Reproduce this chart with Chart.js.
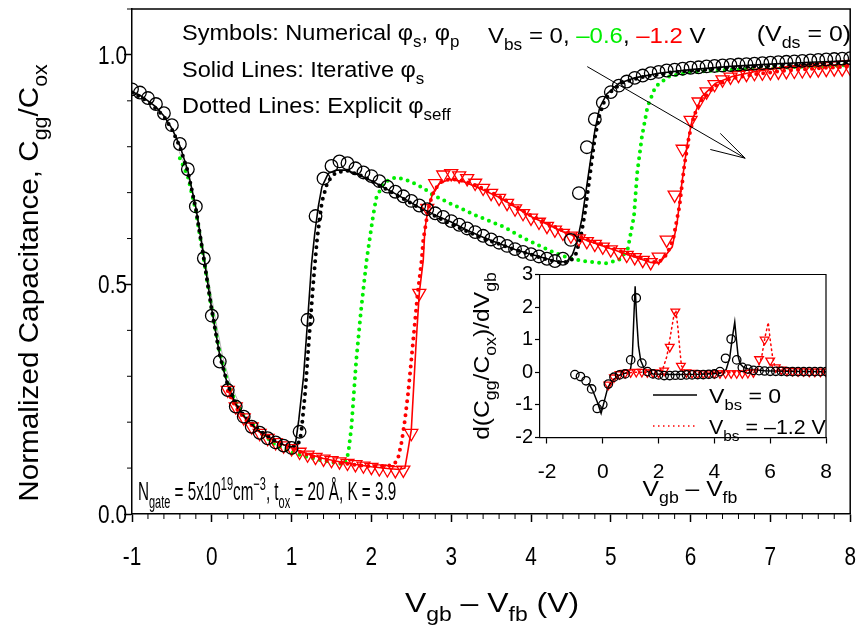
<!DOCTYPE html>
<html>
<head>
<meta charset="utf-8">
<script src="https://cdn.jsdelivr.net/npm/chart.js@4.4.0/dist/chart.umd.min.js"></script>
<style>
  body { margin: 0; background: #fff; }
  #wrap { position: relative; width: 859px; height: 630px; }
  #main { position: absolute; left: 0; top: 0; }
  #inset { position: absolute; left: 430px; top: 250px; }
</style>
</head>
<body>
<div id="wrap">
  <canvas id="main" width="859" height="630"></canvas>
  <canvas id="inset" width="429" height="270"></canvas>
</div>
<script>
// ========== MAIN PLOT DATA ==========
const xTicks = [-1, 0, 1, 2, 3, 4, 5, 6, 7, 8];
const yTicks = [0, 0.5, 1.0];

// numerical, Vbs = 0 (circles)
const circX = [-1.0,-0.9,-0.8,-0.7,-0.6,-0.5,-0.4,-0.3,-0.2,-0.1,0.0,0.1,0.2,0.3,0.4,0.5,0.6,0.7,0.8,0.9,
  1.0,1.1,1.2,1.3,1.4,1.5,1.6,1.7,1.8,1.9,2.0,2.1,2.2,2.3,2.4,2.5,2.6,2.7,2.8,2.9,
  3.0,3.1,3.2,3.3,3.4,3.5,3.6,3.7,3.8,3.9,4.0,4.1,4.2,4.3,4.4,4.5,4.6,4.7,4.8,4.9,
  5.0,5.1,5.2,5.3,5.4,5.5,5.6,5.7,5.8,5.9,6.0,6.1,6.2,6.3,6.4,6.5,6.6,6.7,6.8,6.9,
  7.0,7.1,7.2,7.3,7.4,7.5,7.6,7.7,7.8,7.9,8.0];
const circY = [0.925,0.918,0.906,0.893,0.873,0.847,0.806,0.751,0.670,0.557,0.432,0.332,0.270,0.234,0.212,0.190,0.177,0.165,0.156,0.149,
  0.144,0.179,0.423,0.649,0.731,0.758,0.768,0.764,0.753,0.744,0.736,0.725,0.713,0.702,0.692,0.682,0.672,0.664,0.655,0.647,
  0.638,0.630,0.622,0.614,0.606,0.598,0.591,0.584,0.577,0.571,0.566,0.561,0.556,0.551,0.556,0.597,0.699,0.799,0.860,0.896,
  0.919,0.933,0.942,0.950,0.955,0.960,0.963,0.966,0.968,0.970,0.972,0.973,0.975,0.976,0.977,0.978,0.979,0.980,0.981,0.982,
  0.983,0.984,0.985,0.986,0.987,0.988,0.989,0.990,0.991,0.992,0.993];

// numerical, Vbs = -1.2 (triangles)
const triX = [0.2,0.3,0.4,0.5,0.6,0.7,0.8,0.9,1.0,1.1,1.2,1.3,1.4,1.5,1.6,1.7,1.8,1.9,2.0,
  2.1,2.2,2.3,2.4,2.5,2.6,2.7,2.8,2.9,3.0,3.1,3.2,3.3,3.4,3.5,3.6,3.7,3.8,3.9,4.0,
  4.1,4.2,4.3,4.4,4.5,4.6,4.7,4.8,4.9,5.0,5.1,5.2,5.3,5.4,5.5,5.6,5.7,5.8,5.9,6.0,
  6.1,6.2,6.3,6.4,6.5,6.6,6.7,6.8,6.9,7.0,7.1,7.2,7.3,7.4,7.5,7.6,7.7,7.8,7.9,8.0];
const triY = [0.270,0.234,0.210,0.190,0.176,0.165,0.156,0.149,0.143,0.135,0.129,0.124,0.120,0.117,0.114,0.111,0.108,0.105,0.102,
  0.099,0.097,0.095,0.096,0.176,0.481,0.666,0.720,0.739,0.742,0.737,0.731,0.721,0.710,0.699,0.688,0.677,0.665,0.655,0.645,
  0.636,0.627,0.619,0.612,0.606,0.600,0.594,0.588,0.582,0.576,0.570,0.564,0.559,0.553,0.548,0.560,0.597,0.695,0.795,0.858,
  0.898,0.920,0.936,0.946,0.952,0.956,0.958,0.960,0.961,0.962,0.963,0.964,0.965,0.966,0.967,0.968,0.969,0.970,0.970,0.971];

// iterative, Vbs = 0 (solid black)
const blackX = [-1.0,-0.9,-0.8,-0.7,-0.6,-0.5,-0.4,-0.3,-0.2,-0.1,0.0,0.1,0.2,0.3,0.4,0.5,0.6,0.7,0.8,0.9,
  1.0,1.05,1.09,1.15,1.21,1.25,1.29,1.335,1.38,1.46,1.56,1.67,1.8,2.0,2.2,2.4,2.6,2.8,3.0,3.2,3.4,3.6,3.8,4.0,4.2,
  4.35,4.45,4.52,4.58,4.64,4.72,4.8,4.86,4.95,5.1,5.3,5.6,6.0,6.5,7.0,7.5,8.0];
const blackY = [0.920,0.912,0.900,0.887,0.867,0.840,0.802,0.748,0.668,0.560,0.445,0.345,0.280,0.240,0.214,0.195,0.180,0.168,0.158,0.151,
  0.146,0.155,0.205,0.300,0.444,0.545,0.611,0.670,0.713,0.742,0.749,0.749,0.742,0.726,0.707,0.688,0.668,0.651,0.636,0.618,0.603,0.589,0.576,0.566,0.556,
  0.549,0.550,0.565,0.595,0.645,0.740,0.835,0.885,0.915,0.938,0.950,0.960,0.968,0.975,0.980,0.984,0.987];

// explicit, Vbs = 0 (dotted black)
const blackDotX = [-1.0,-0.8,-0.6,-0.5,-0.4,-0.3,-0.2,-0.1,0.0,0.1,0.2,0.3,0.4,0.6,0.8,1.0,1.08,1.12,1.17,1.22,1.27,1.32,1.38,1.45,1.55,1.7,1.9,
  2.2,2.6,3.0,3.4,3.8,4.2,4.4,4.5,4.56,4.62,4.68,4.74,4.8,4.86,4.92,5.0,5.15,5.4,5.8,6.5,7.2,8.0];
const blackDotY = [0.918,0.899,0.866,0.838,0.800,0.746,0.665,0.556,0.443,0.345,0.281,0.241,0.215,0.181,0.159,0.146,0.150,0.175,0.265,0.385,0.500,0.600,0.680,0.723,0.743,0.748,0.735,
  0.706,0.667,0.631,0.600,0.576,0.554,0.547,0.552,0.565,0.600,0.660,0.740,0.820,0.870,0.900,0.920,0.940,0.952,0.963,0.972,0.978,0.982];

// iterative, Vbs = -0.6 (thin line)
const greenX = [-0.41,-0.33,-0.24,-0.15,-0.06,0.04,0.14,0.24,0.32];
const greenY = [0.790,0.755,0.700,0.625,0.530,0.430,0.340,0.280,0.250];

// explicit, Vbs = -0.6 (dotted green)
const greenDotX = [-0.4,-0.3,-0.2,-0.1,0.0,0.1,0.2,0.3,0.4,0.6,0.8,1.0,1.2,1.4,1.6,1.66,1.71,1.75,1.81,1.87,1.94,
  2.02,2.06,2.15,2.23,2.31,2.42,2.52,2.65,2.77,2.98,3.3,3.65,3.95,4.27,4.48,4.69,4.94,5.1,5.21,
  5.29,5.33,5.39,5.46,5.56,5.73,5.98,6.4,7.0,7.5,8.0];
const greenDotY = [0.775,0.735,0.660,0.555,0.445,0.350,0.285,0.243,0.215,0.180,0.150,0.134,0.124,0.116,0.110,0.108,0.132,0.190,0.335,0.444,0.553,
  0.648,0.688,0.720,0.729,0.733,0.729,0.722,0.710,0.695,0.677,0.651,0.626,0.597,0.571,0.557,0.550,0.546,0.553,0.575,
  0.648,0.742,0.822,0.887,0.931,0.953,0.962,0.967,0.971,0.975,0.978];

// iterative, Vbs = -1.2 (solid red)
const redX = [0.2,0.3,0.4,0.5,0.6,0.8,1.0,1.2,1.4,1.6,1.8,2.0,2.2,2.35,2.42,2.46,2.5,2.56,2.6,2.65,2.67,2.71,2.77,2.85,2.98,
  3.15,3.31,3.6,4.0,4.4,4.8,5.0,5.3,5.5,5.6,5.64,5.77,5.83,5.89,5.96,6.02,6.06,6.14,6.31,6.52,6.81,7.23,7.6,8.0];
const redY = [0.270,0.236,0.212,0.193,0.178,0.158,0.144,0.131,0.121,0.114,0.108,0.103,0.099,0.097,0.100,0.140,0.183,0.372,0.481,0.553,0.619,0.666,0.699,0.720,0.729,
  0.724,0.713,0.690,0.648,0.615,0.590,0.578,0.560,0.548,0.547,0.553,0.582,0.633,0.720,0.808,0.858,0.875,0.909,0.938,0.953,0.964,0.975,0.982,0.988];

// explicit, Vbs = -1.2 (dotted red)
const redDotX = [0.2,0.3,0.4,0.6,0.8,1.0,1.2,1.4,1.6,1.8,2.0,2.2,2.28,2.33,2.38,2.42,2.46,2.5,2.54,2.58,2.63,2.65,2.69,2.73,2.79,2.88,
  3.0,3.15,3.31,3.6,4.0,4.4,4.8,5.0,5.3,5.5,5.6,5.7,5.78,5.86,5.92,5.98,6.04,6.12,6.3,6.5,6.8,7.2,7.6,8.0];
const redDotY = [0.268,0.232,0.210,0.177,0.157,0.142,0.129,0.119,0.112,0.107,0.104,0.105,0.108,0.118,0.158,0.205,0.263,0.335,0.408,0.481,0.553,0.597,0.640,0.677,0.706,0.724,
  0.730,0.726,0.716,0.692,0.650,0.617,0.592,0.580,0.562,0.550,0.548,0.565,0.597,0.670,0.757,0.822,0.866,0.898,0.932,0.948,0.958,0.966,0.971,0.975];

// ========== INSET DATA ==========
const insetXTicks = [-2, 0, 2, 4, 6, 8];
const insetYTicks = [-2, -1, 0, 1, 2, 3];

const insCircX = [-1.0,-0.8,-0.6,-0.4,-0.2,0.0,0.2,0.4,0.6,0.8,1.0,1.2,1.4,1.6,1.8,2.0,2.2,2.4,2.6,2.8,3.0,3.2,3.4,
  3.6,3.8,4.0,4.2,4.4,4.6,4.8,5.0,5.2,5.4,5.6,5.8,6.0,6.2,6.4,6.6,6.8,7.0,7.2,7.4,7.6,7.8,8.0];
const insCircY = [-0.07,-0.13,-0.26,-0.51,-1.11,-0.99,-0.36,-0.15,-0.08,-0.05,0.38,2.28,0.28,0.02,-0.05,-0.08,-0.10,-0.10,-0.09,-0.09,-0.08,-0.08,-0.07,
  -0.07,-0.06,-0.05,0.02,0.43,1.02,0.38,0.15,0.10,0.06,0.05,0.04,0.03,0.03,0.03,0.02,0.02,0.02,0.02,0.02,0.02,0.02,0.02];

const insTriX = [0.2,0.4,0.6,0.8,1.0,1.2,1.4,1.6,1.8,2.0,2.2,2.4,2.6,2.8,3.0,3.2,3.4,3.6,3.8,4.0,
  4.2,4.4,4.6,4.8,5.0,5.2,5.4,5.6,5.8,6.0,6.2,6.4,6.6,6.8,7.0,7.2,7.4,7.6,7.8,8.0];
const insTriY = [-0.38,-0.16,-0.06,-0.02,0.00,0.01,0.01,0.00,-0.01,-0.01,0.05,0.78,1.86,0.20,0.00,-0.02,-0.03,-0.03,-0.03,-0.03,
  -0.03,-0.03,-0.03,-0.03,-0.03,-0.02,0.00,0.40,1.00,0.36,0.15,0.08,0.05,0.04,0.03,0.03,0.02,0.02,0.02,0.02];

const insBlackX = [-0.5,-0.36,-0.2,-0.06,0.05,0.18,0.35,0.55,0.75,0.92,1.0,1.06,1.11,1.16,1.21,1.28,1.36,1.48,1.6,1.8,
  2.5,3.5,4.2,4.42,4.55,4.65,4.73,4.79,4.85,4.92,5.05,5.21,5.8,6.5,8.0];
const insBlackY = [-0.35,-0.56,-0.90,-1.26,-0.90,-0.47,-0.25,-0.11,-0.04,-0.01,0.12,0.50,1.60,2.64,1.70,0.80,0.36,0.12,0.03,-0.05,
  -0.07,-0.06,-0.03,0.08,0.45,1.10,1.54,1.00,0.50,0.26,0.15,0.10,0.05,0.03,0.02];

const insRedX = [0.15,0.25,0.4,0.6,0.8,1.2,2.0,2.15,2.3,2.42,2.55,2.62,2.7,2.76,2.82,2.95,3.5,
  5.4,5.55,5.7,5.82,5.93,6.0,6.08,6.16,6.35,7.0,8.0];
const insRedY = [-0.50,-0.35,-0.18,-0.07,-0.02,0.00,0.00,0.10,0.50,1.10,1.75,1.90,1.30,0.70,0.20,0.03,-0.02,
  -0.01,0.10,0.50,1.10,1.53,1.00,0.50,0.20,0.07,0.03,0.02];

// ========== HELPERS ==========
const FONT = '"Liberation Sans", Arial, Helvetica, sans-serif';
const GREEN = "#00ee00";
const RED = "#ff0000";

function pts(xs, ys) {
  return xs.map((x, i) => ({ x: x, y: ys[i] }));
}

function partFont(p, size) {
  const s = p[1] ? size * 0.72 : size;
  return s + "px " + FONT;
}

// parts: [text, "sub" | "sup" | "", color]
function drawRich(ctx, parts, x, y, size, align, sx) {
  ctx.save();
  ctx.translate(x, y);
  ctx.scale(sx || 1, 1);
  ctx.textAlign = "left";
  ctx.textBaseline = "alphabetic";
  let w = 0;
  parts.forEach(p => { ctx.font = partFont(p, size); w += ctx.measureText(p[0]).width; });
  let cx = align === "center" ? -w / 2 : align === "right" ? -w : 0;
  parts.forEach(p => {
    ctx.font = partFont(p, size);
    ctx.fillStyle = p[2] || "#000";
    const dy = p[1] === "sub" ? size * 0.32 : p[1] === "sup" ? -size * 0.42 : 0;
    ctx.fillText(p[0], cx, dy);
    cx += ctx.measureText(p[0]).width;
  });
  ctx.restore();
}

function lineSet(xs, ys, color, width, dash) {
  return {
    data: pts(xs, ys), showLine: true, pointRadius: 0, borderColor: color,
    borderWidth: width, borderDash: dash || [], borderCapStyle: "round", tension: 0, fill: false
  };
}

function symbolSet(xs, ys, style, color, r, rot) {
  return {
    data: pts(xs, ys), showLine: false, pointStyle: style, pointRadius: r, pointRotation: rot || 0,
    borderColor: color, backgroundColor: "rgba(0,0,0,0)", pointBorderWidth: 1.3
  };
}

// ========== MAIN CHART ==========
const mainDecor = {
  id: "mainDecor",
  afterDraw(chart) {
    const { ctx, chartArea: a, scales: { x, y } } = chart;
    ctx.save();
    ctx.strokeStyle = "#000";
    ctx.lineWidth = 1.5;
    ctx.beginPath();
    ctx.moveTo(a.left, a.top);
    ctx.lineTo(a.right, a.top);
    ctx.lineTo(a.right, a.bottom);
    ctx.stroke();

    // minor ticks
    ctx.lineWidth = 1;
    ctx.beginPath();
    for (let i = -5; i <= 40; i++) {
      if (i % 5 === 0) continue;
      const px = x.getPixelForValue(i / 5);
      ctx.moveTo(px, a.bottom);
      ctx.lineTo(px, a.bottom + 5);
    }
    for (let i = 1; i <= 11; i++) {
      if (i % 5 === 0) continue;
      const py = y.getPixelForValue(i / 10);
      ctx.moveTo(a.left, py);
      ctx.lineTo(a.left - 5, py);
    }
    ctx.stroke();

    // tick labels (condensed)
    xTicks.forEach(v => drawRich(ctx, [[String(v)]], x.getPixelForValue(v), 565, 26, "center", 0.8));
    yTicks.forEach(v => drawRich(ctx, [[v.toFixed(1)]], 127, y.getPixelForValue(v) + 9, 26, "right", 0.8));

    // arrow
    const p = (vx, vy) => [x.getPixelForValue(vx), y.getPixelForValue(vy)];
    const s = p(4.705, 0.9745), e = p(6.684, 0.775), h1 = p(6.372, 0.829), h2 = p(6.247, 0.794);
    ctx.lineWidth = 1;
    ctx.beginPath();
    ctx.moveTo(s[0], s[1]); ctx.lineTo(e[0], e[1]);
    ctx.moveTo(h1[0], h1[1]); ctx.lineTo(e[0], e[1]); ctx.lineTo(h2[0], h2[1]);
    ctx.stroke();

    // texts
    drawRich(ctx, [["Symbols: Numerical φ"], ["s", "sub"], [", φ"], ["p", "sub"]], 182, 40, 22, "left", 1.07);
    drawRich(ctx, [["Solid Lines: Iterative φ"], ["s", "sub"]], 182, 77, 22, "left", 1.07);
    drawRich(ctx, [["Dotted Lines: Explicit φ"], ["seff", "sub"]], 182, 113, 22, "left", 1.07);
    drawRich(ctx, [["V"], ["bs", "sub"], [" = 0, "], ["–0.6", "", GREEN], [", "], ["–1.2", "", RED], [" V"]], 488, 43, 22, "left", 1.09);
    drawRich(ctx, [["(V"], ["ds", "sub"], [" = 0)"]], 851, 41, 22, "right", 1.13);
    drawRich(ctx, [["N"], ["gate", "sub"], [" = 5x10"], ["19", "sup"], ["cm"], ["−3", "sup"], [", t"], ["ox", "sub"], [" = 20 Å, K = 3.9"]],
      138, 500, 25, "left", 0.61);
    drawRich(ctx, [["V"], ["gb", "sub"], [" – V"], ["fb", "sub"], [" (V)"]], 492, 612, 28, "center", 1.14);

    ctx.translate(38, 283);
    ctx.rotate(-Math.PI / 2);
    drawRich(ctx, [["Normalized Capacitance, C"], ["gg", "sub"], ["/C"], ["ox", "sub"]], 0, 0, 27, "center", 1.1);
    ctx.restore();
  }
};

new Chart(document.getElementById("main"), {
  type: "scatter",
  data: {
    datasets: [
      symbolSet(circX, circY, "circle", "#000", 6.3),
      symbolSet(triX, triY, "triangle", RED, 7.5, 180),
      lineSet(blackX, blackY, "#000", 1.6),
      lineSet(blackDotX, blackDotY, "#000", 4, [0, 7]),
      lineSet(redX, redY, RED, 1.6),
      lineSet(redDotX, redDotY, RED, 4, [0, 7]),
      lineSet(greenDotX, greenDotY, GREEN, 4, [0, 7]),
      lineSet(greenX, greenY, "#b4b4b4", 1)
    ]
  },
  options: {
    responsive: false,
    animation: false,
    devicePixelRatio: 1,
    layout: { padding: { left: 0, right: 7, top: 9, bottom: 0 } },
    plugins: { legend: { display: false }, tooltip: { enabled: false } },
    scales: {
      x: {
        type: "linear", min: -1, max: 8,
        afterBuildTicks: s => { s.ticks = xTicks.map(v => ({ value: v })); },
        afterFit: s => { s.height = 116; },
        ticks: { display: false },
        grid: { drawOnChartArea: false, drawTicks: true, tickLength: 8, tickWidth: 1.5, tickColor: "#000" },
        border: { display: true, color: "#000", width: 1.5 }
      },
      y: {
        type: "linear", min: 0, max: 1.1,
        afterBuildTicks: s => { s.ticks = yTicks.map(v => ({ value: v })); },
        afterFit: s => { s.width = 132; },
        ticks: { display: false },
        grid: { drawOnChartArea: false, drawTicks: true, tickLength: 8, tickWidth: 1.5, tickColor: "#000" },
        border: { display: true, color: "#000", width: 1.5 }
      }
    }
  },
  plugins: [mainDecor]
});

// ========== INSET CHART ==========
const insetDecor = {
  id: "insetDecor",
  afterDraw(chart) {
    const { ctx, chartArea: a } = chart;
    ctx.save();
    ctx.strokeStyle = "#000";
    ctx.lineWidth = 1.2;
    ctx.beginPath();
    ctx.moveTo(a.left, a.top);
    ctx.lineTo(a.right, a.top);
    ctx.lineTo(a.right, a.bottom);
    ctx.stroke();

    // legend
    ctx.lineWidth = 1.5;
    ctx.beginPath();
    ctx.moveTo(223, 145); ctx.lineTo(267, 145);
    ctx.stroke();
    ctx.strokeStyle = RED;
    ctx.setLineDash([1.5, 3.5]);
    ctx.beginPath();
    ctx.moveTo(223, 176); ctx.lineTo(267, 176);
    ctx.stroke();
    ctx.setLineDash([]);
    drawRich(ctx, [["V"], ["bs", "sub"], [" = 0"]], 279, 153, 21, "left", 1.1);
    drawRich(ctx, [["V"], ["bs", "sub"], [" = –1.2 V"]], 279, 184, 21, "left", 1.02);

    drawRich(ctx, [["V"], ["gb", "sub"], [" – V"], ["fb", "sub"]], 260, 246, 22, "center", 1.12);
    ctx.translate(59, 106);
    ctx.rotate(-Math.PI / 2);
    drawRich(ctx, [["d(C"], ["gg", "sub"], ["/C"], ["ox", "sub"], [")/dV"], ["gb", "sub"]], 0, 0, 22, "center", 1.12);
    ctx.restore();
  }
};

new Chart(document.getElementById("inset"), {
  type: "scatter",
  data: {
    datasets: [
      symbolSet(insCircX, insCircY, "circle", "#000", 4.2),
      symbolSet(insTriX, insTriY, "triangle", RED, 5, 180),
      lineSet(insBlackX, insBlackY, "#000", 1.5),
      lineSet(insRedX, insRedY, RED, 1.5, [1.5, 3.5])
    ]
  },
  options: {
    responsive: false,
    animation: false,
    devicePixelRatio: 1,
    layout: { padding: { left: 0, right: 33, top: 24.5, bottom: 0 } },
    plugins: { legend: { display: false }, tooltip: { enabled: false } },
    scales: {
      x: {
        type: "linear", min: -2.25, max: 8,
        afterBuildTicks: s => { s.ticks = insetXTicks.map(v => ({ value: v })); },
        afterFit: s => { s.height = 82.5; },
        ticks: { color: "#000", font: { size: 21, family: FONT }, padding: 16, autoSkip: false, maxRotation: 0,
          callback: v => String(v) },
        grid: { drawOnChartArea: false, drawTicks: true, tickLength: 6, tickWidth: 1.2, tickColor: "#000" },
        border: { display: true, color: "#000", width: 1.2 }
      },
      y: {
        type: "linear", min: -2, max: 3,
        afterBuildTicks: s => { s.ticks = insetYTicks.map(v => ({ value: v })); },
        afterFit: s => { s.width = 110; },
        ticks: { color: "#000", font: { size: 20, family: FONT }, padding: 2, autoSkip: false,
          callback: v => String(v) },
        grid: { drawOnChartArea: false, drawTicks: true, tickLength: 5, tickWidth: 1.2, tickColor: "#000" },
        border: { display: true, color: "#000", width: 1.2 }
      }
    }
  },
  plugins: [insetDecor]
});
</script>
</body>
</html>
